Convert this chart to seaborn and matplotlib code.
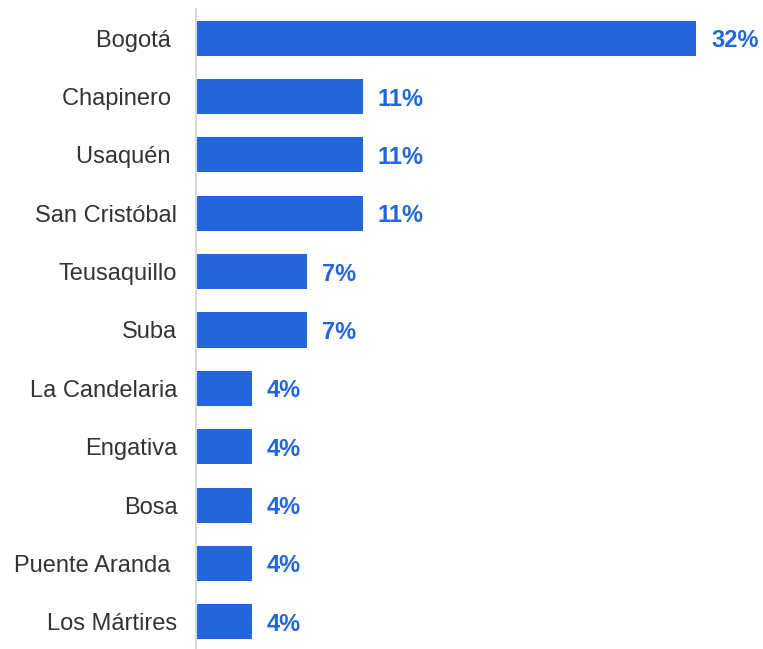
import seaborn as sns
import matplotlib.pyplot as plt
import pandas as pd

# share of respondents by locality (28 responses)
localities = ['Bogotá ', 'Chapinero ', 'Usaquén ', 'San Cristóbal', 'Teusaquillo', 'Suba',
              'La Candelaria', 'Engativa', 'Bosa', 'Puente Aranda ', 'Los Mártires']
shares = [32.14, 10.71, 10.71, 10.71, 7.14, 7.14, 3.57, 3.57, 3.57, 3.57, 3.57]
value_labels = ['32%', '11%', '11%', '11%', '7%', '7%', '4%', '4%', '4%', '4%', '4%']

df = pd.DataFrame({'Locality': localities, 'Share': shares})

sns.set_theme(style='white')
plt.rcParams['font.family'] = ['Liberation Sans', 'DejaVu Sans']

blue = '#2366db'

fig = plt.figure(figsize=(7.63, 6.49), dpi=100)
ax = fig.add_axes([196 / 763, -2 / 649, 567 / 763, 642 / 649])

sns.barplot(data=df, x='Share', y='Locality', orient='h', color=blue,
            saturation=1, width=0.6, linewidth=0, ax=ax)

for i, (v, lab) in enumerate(zip(shares, value_labels)):
    ax.annotate(lab, (v, i), xytext=(15, 0), textcoords='offset pixels',
                va='center_baseline', ha='left', fontsize=17, fontweight='bold', color=blue)

ax.set_xlim(0, 36.45)
ax.set_ylim(10.5, -0.5)
ax.set_xlabel('')
ax.set_ylabel('')
ax.set_xticks([])
ax.tick_params(axis='y', length=0, pad=13.5, labelsize=17, labelcolor='#333333')

for side in ['top', 'right', 'bottom']:
    ax.spines[side].set_visible(False)
ax.spines['left'].set_color('#d9d9d9')
ax.spines['left'].set_linewidth(1.5)

fig.savefig('out.png', dpi=100)
plt.close(fig)
